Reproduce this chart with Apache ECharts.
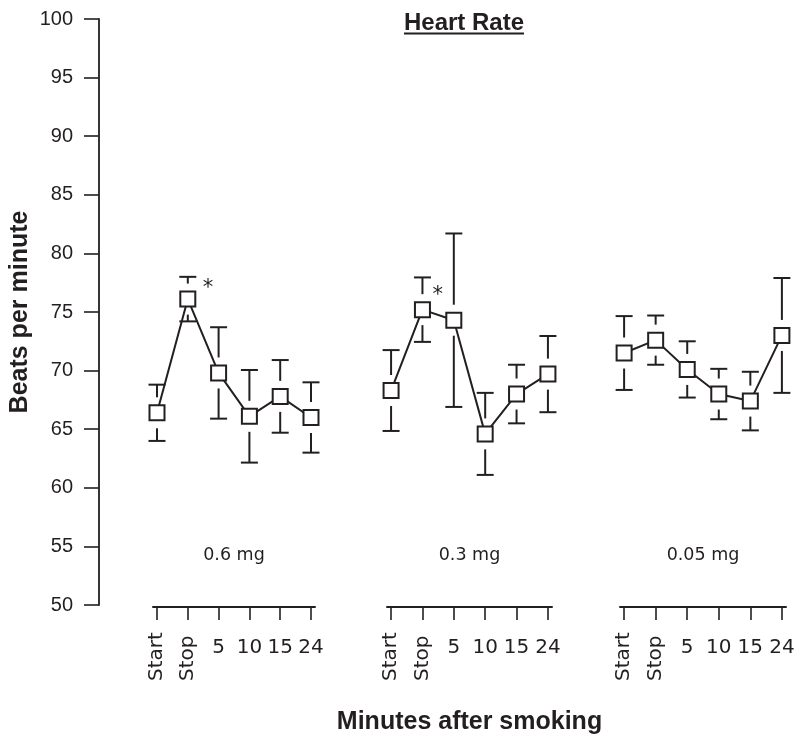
<!DOCTYPE html>
<html><head><meta charset="utf-8">
<script src="https://cdn.jsdelivr.net/npm/echarts@6/dist/echarts.min.js"></script>
<style>html,body{margin:0;padding:0;background:#fff}#c{width:798px;height:738px}</style>
</head><body><div id="c"></div>
<script>
// ---- data ----
const categories = ['Start', 'Stop', '5', '10', '15', '24'];
const doseLabels = ['0.6 mg', '0.3 mg', '0.05 mg'];
const mean06  = [66.4, 76.1, 69.8, 66.1, 67.8, 66.0];
const sem06   = [2.4, 1.9, 3.9, 3.95, 3.1, 3.0];
const mean03  = [68.3, 75.2, 74.3, 64.6, 68.0, 69.7];
const sem03   = [3.45, 2.75, 7.4, 3.5, 2.5, 3.25];
const mean005 = [71.5, 72.6, 70.1, 68.0, 67.4, 73.0];
const sem005  = [3.15, 2.1, 2.4, 2.15, 2.5, 4.9];
const sig06   = [1];   // indices marked with *
const sig03   = [1];
const sig005  = [];
const yMin = 50, yMax = 100, yStep = 5;
const titleText = 'Heart Rate';
const yName = 'Beats per minute';
const xName = 'Minutes after smoking';

// ---- layout / style ----
const INK = '#231f20';
const TOP = 19, BOTTOM = 133;
const groups = [
  { left: 153, width: 162, mean: mean06,  sem: sem06,  sig: sig06,  star: [1.5, -10.5] },
  { left: 387, width: 165, mean: mean03,  sem: sem03,  sig: sig03,  star: [-3.5, -14.5] },
  { left: 620, width: 166, mean: mean005, sem: sem005, sig: sig005, star: [0, -8] }
];
const XMIN = -0.13, XMAX = categories.length - 1 + 0.13;
const idx = categories.map((_, i) => i);

const grid = [{ left: 99, top: TOP, bottom: BOTTOM, right: 10, outerBoundsMode: 'none', containLabel: false }];
const xAxis = [{ gridIndex: 0, type: 'value', show: false, min: 0, max: 1 }];
const yAxis = [{
  gridIndex: 0, type: 'value', min: yMin, max: yMax, interval: yStep,
  name: yName, nameLocation: 'middle', nameGap: 66, nameRotate: 90, nameMoveOverlap: false,
  nameTextStyle: { fontFamily: 'Liberation Sans', fontWeight: 'bold', fontSize: 25, color: INK },
  axisLine: { show: true, lineStyle: { color: INK, width: 1.8 } },
  axisTick: { show: true, length: 15, lineStyle: { color: INK, width: 1.6 } },
  axisLabel: { margin: 26, fontFamily: 'Liberation Sans', fontSize: 20, color: INK },
  splitLine: { show: false }
}];
const series = [];
const graphic = [];

function errRender(params, api) {
  const x = api.value(0), m = api.value(1), e = api.value(2);
  const c = api.coord([x, m]);
  const up = api.coord([x, m + e]);
  const dn = api.coord([x, m - e]);
  const half = 8.5, gap = 7, cap = 8.5;
  const st = { stroke: INK, lineWidth: 2 };
  const ch = [];
  const topEnd = c[1] - half - gap;
  if (up[1] < topEnd) ch.push({ type: 'line', shape: { x1: c[0], y1: up[1], x2: c[0], y2: topEnd }, style: st });
  ch.push({ type: 'line', shape: { x1: c[0] - cap, y1: up[1], x2: c[0] + cap, y2: up[1] }, style: st });
  const botEnd = c[1] + half + gap;
  if (dn[1] > botEnd) ch.push({ type: 'line', shape: { x1: c[0], y1: botEnd, x2: c[0], y2: dn[1] }, style: st });
  ch.push({ type: 'line', shape: { x1: c[0] - cap, y1: dn[1], x2: c[0] + cap, y2: dn[1] }, style: st });
  return { type: 'group', children: ch };
}

groups.forEach((g, gi) => {
  const gridIdx = gi + 1;
  grid.push({ left: g.left, width: g.width, top: TOP, bottom: BOTTOM, outerBoundsMode: 'none', containLabel: false });
  const mainX = xAxis.length;
  xAxis.push({
    gridIndex: gridIdx, type: 'value', min: XMIN, max: XMAX, offset: 2,
    axisLine: { show: true, onZero: false, lineStyle: { color: INK, width: 2 } },
    axisTick: { show: true, length: 13, customValues: idx, lineStyle: { color: INK, width: 1.6 } },
    axisLabel: { show: true, customValues: idx.slice(2), formatter: v => categories[Math.round(v)],
      margin: 31, fontFamily: 'DejaVu Sans', fontSize: 20, color: INK },
    splitLine: { show: false },
    name: gi === 1 ? xName : '', nameLocation: 'middle', nameGap: 103, nameMoveOverlap: false,
    nameTextStyle: { fontFamily: 'Liberation Sans', fontWeight: 'bold', fontSize: 25, color: INK }
  });
  xAxis.push({
    gridIndex: gridIdx, type: 'value', min: XMIN, max: XMAX, offset: 2, position: 'bottom',
    axisLine: { show: false }, axisTick: { show: false }, splitLine: { show: false },
    axisLabel: { show: true, customValues: idx.slice(0, 2), formatter: v => categories[Math.round(v)],
      rotate: 90, align: 'left', margin: 74, fontFamily: 'DejaVu Sans', fontSize: 20, color: INK }
  });
  yAxis.push({ gridIndex: gridIdx, type: 'value', min: yMin, max: yMax, show: false });

  series.push({
    type: 'custom', xAxisIndex: mainX, yAxisIndex: gridIdx, renderItem: errRender,
    encode: { x: 0, y: 1 }, silent: true, z: 1,
    data: g.mean.map((m, i) => [i, m, g.sem[i]])
  });
  series.push({
    type: 'line', xAxisIndex: mainX, yAxisIndex: gridIdx, z: 3,
    symbol: 'rect', symbolSize: 15, showAllSymbol: true,
    lineStyle: { color: INK, width: 2 },
    itemStyle: { color: '#fff', borderColor: INK, borderWidth: 2 },
    emphasis: { disabled: true }, silent: true,
    data: g.mean.map((m, i) => g.sig.includes(i)
      ? { value: [i, m], label: { show: true, formatter: '*', position: 'right', offset: g.star,
          fontFamily: 'DejaVu Sans', fontSize: 21, color: INK } }
      : [i, m])
  });
  graphic.push({
    type: 'text', x: g.left + g.width / 2, y: 555,
    style: { text: doseLabels[gi], fontFamily: 'DejaVu Sans', fontSize: 17.5, fill: INK,
      align: 'center', verticalAlign: 'middle' }
  });
});

// underlined title
const TFONT = 24;
const ctx = document.createElement('canvas').getContext('2d');
ctx.font = 'bold ' + TFONT + 'px "Liberation Sans"';
const tw = ctx.measureText(titleText).width;
const tcx = 464;
graphic.push({ type: 'text', x: tcx, y: 11,
  style: { text: titleText, fontFamily: 'Liberation Sans', fontWeight: 'bold', fontSize: TFONT, fill: INK, align: 'center', verticalAlign: 'top' } });
graphic.push({ type: 'line', shape: { x1: tcx - tw / 2, y1: 33.5, x2: tcx + tw / 2, y2: 33.5 }, style: { stroke: INK, lineWidth: 2 } });

const chart = echarts.init(document.getElementById('c'), null, { renderer: 'canvas' });
chart.setOption({
  animation: false, backgroundColor: '#fff',
  grid, xAxis, yAxis, series, graphic
});
</script></body></html>
